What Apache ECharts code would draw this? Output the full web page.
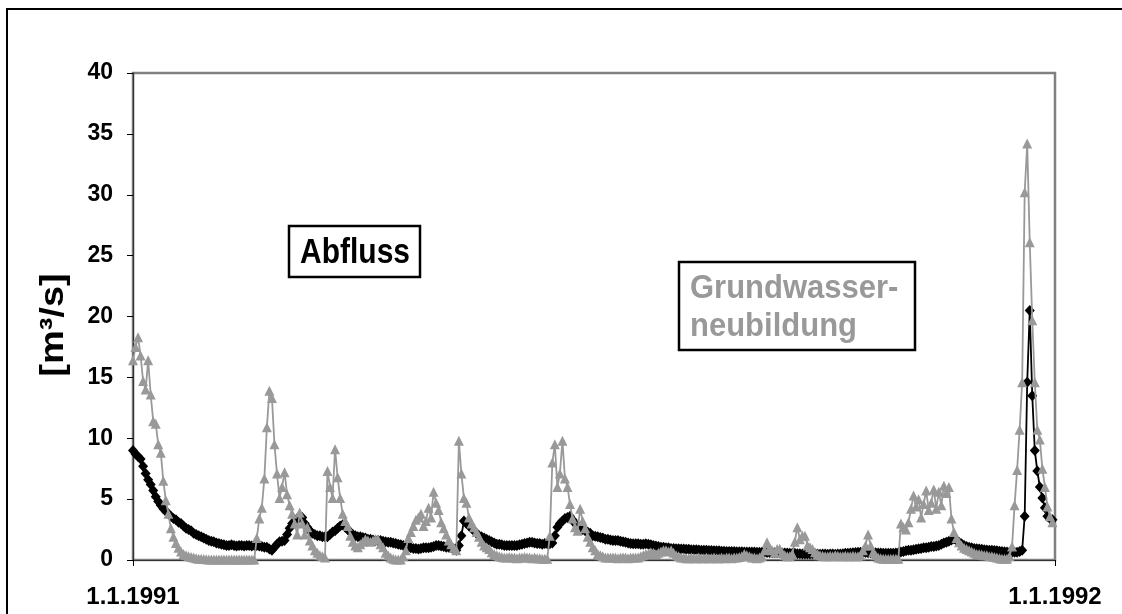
<!DOCTYPE html>
<html>
<head>
<meta charset="utf-8">
<script src="https://cdn.jsdelivr.net/npm/echarts@6/dist/echarts.min.js"></script>
<style>
html,body{margin:0;padding:0;background:#fff;}
#chart{width:1122px;height:614px;}
</style>
</head>
<body>
<div id="chart"></div>
<script>
// Daily values for 1991 (day index 0 = 1.1.1991)
const abfluss = [
 9.0, 8.7, 8.5, 8.3, 7.7, 7.1, 6.6, 6.2, 5.7, 5.2,
 4.8, 4.5, 4.2, 4.0, 3.8, 3.6, 3.4, 3.3, 3.1, 3.0,
 2.8, 2.6, 2.5, 2.4, 2.2, 2.1, 2.0, 1.9, 1.8, 1.7,
 1.6, 1.55, 1.5, 1.4, 1.35, 1.3, 1.25, 1.2, 1.2, 1.25,
 1.2, 1.15, 1.2, 1.2, 1.15, 1.2, 1.2, 1.15, 1.2, 1.2,
 1.15, 1.1, 1.05, 1.05, 0.9, 0.8, 1.05, 1.3, 1.5, 1.55,
 1.6, 2.1, 2.6, 3.0, 3.2, 3.4, 3.5, 3.5, 3.0, 2.7,
 2.4, 2.2, 2.1, 2.0, 2.0, 1.9, 1.9, 1.9, 2.1, 2.3,
 2.4, 2.6, 2.8, 2.9, 2.7, 2.5, 2.3, 2.1, 2.0, 1.9,
 1.9, 1.85, 1.8, 1.7, 1.7, 1.65, 1.6, 1.6, 1.6, 1.55,
 1.5, 1.45, 1.45, 1.4, 1.35, 1.3, 1.25, 1.2, 1.1, 1.05,
 1.0, 0.95, 0.95, 0.9, 0.95, 1.0, 1.0, 1.0, 1.05, 1.1,
 1.2, 1.2, 1.15, 1.1, 1.05, 1.05, 1.0, 0.9, 0.8, 1.2,
 2.0, 3.2, 3.0, 2.8, 2.6, 2.4, 2.2, 2.0, 1.9, 1.8,
 1.7, 1.6, 1.5, 1.4, 1.3, 1.3, 1.25, 1.2, 1.2, 1.2,
 1.2, 1.2, 1.2, 1.25, 1.3, 1.35, 1.4, 1.45, 1.45, 1.4,
 1.35, 1.35, 1.3, 1.35, 1.33, 1.33, 1.4, 2.0, 2.7, 3.0,
 3.2, 3.4, 3.5, 3.6, 3.3, 3.0, 2.8, 2.7, 2.5, 2.4,
 2.3, 2.2, 2.0, 1.95, 1.9, 1.85, 1.8, 1.7, 1.7, 1.65,
 1.6, 1.6, 1.6, 1.55, 1.5, 1.45, 1.4, 1.35, 1.33, 1.33,
 1.33, 1.3, 1.3, 1.33, 1.3, 1.25, 1.2, 1.15, 1.1, 1.05,
 1.05, 1.0, 1.0, 0.95, 0.95, 0.92, 0.92, 0.9, 0.9, 0.88,
 0.88, 0.85, 0.85, 0.85, 0.82, 0.8, 0.8, 0.8, 0.78, 0.78,
 0.75, 0.75, 0.75, 0.72, 0.72, 0.7, 0.7, 0.7, 0.7, 0.68,
 0.68, 0.68, 0.66, 0.66, 0.65, 0.65, 0.65, 0.64, 0.64, 0.64,
 0.64, 0.62, 0.62, 0.6, 0.6, 0.6, 0.6, 0.58, 0.58, 0.58,
 0.55, 0.55, 0.55, 0.52, 0.52, 0.5, 0.5, 0.5, 0.5, 0.5,
 0.52, 0.5, 0.48, 0.5, 0.5, 0.48, 0.5, 0.5, 0.48, 0.5,
 0.5, 0.52, 0.55, 0.55, 0.58, 0.6, 0.62, 0.64, 0.64, 0.64,
 0.62, 0.6, 0.6, 0.6, 0.6, 0.58, 0.58, 0.56, 0.56, 0.56,
 0.56, 0.56, 0.58, 0.6, 0.65, 0.7, 0.75, 0.8, 0.8, 0.85,
 0.88, 0.92, 0.95, 1.0, 1.0, 1.05, 1.1, 1.1, 1.15, 1.2,
 1.3, 1.4, 1.46, 1.55, 1.65, 1.74, 1.6, 1.45, 1.33, 1.2,
 1.1, 1.05, 1.0, 0.95, 0.92, 0.9, 0.88, 0.85, 0.82, 0.8,
 0.8, 0.78, 0.75, 0.72, 0.7, 0.68, 0.66, 0.64, 0.64, 0.64,
 0.64, 0.7, 0.8, 3.6, 14.6, 20.5, 13.5, 9.0, 7.3, 6.0,
 5.1, 4.3, 3.6, 3.4, 3.3
];
const grundwasserneubildung = [
 16.4, 17.5, 18.3, 16.8, 14.7, 14.0, 16.4, 13.6, 11.4, 11.2,
 9.5, 8.8, 6.5, 4.9, 3.8, 2.6, 1.9, 1.4, 1.0, 0.7,
 0.5, 0.4, 0.3, 0.25, 0.2, 0.15, 0.1, 0.1, 0.08, 0.06,
 0.05, 0.05, 0.04, 0.05, 0.05, 0.04, 0.05, 0.05, 0.04, 0.05,
 0.05, 0.04, 0.05, 0.05, 0.04, 0.05, 0.05, 0.05, 0.05, 1.8,
 3.4, 4.3, 6.7, 10.9, 13.9, 13.3, 9.5, 7.1, 5.1, 6.0,
 7.2, 5.4, 4.5, 3.8, 3.0, 2.1, 3.9, 3.0, 2.1, 2.7,
 1.6, 1.2, 0.8, 0.6, 0.4, 0.3, 0.2, 7.3, 6.0, 5.1,
 9.1, 6.8, 5.1, 3.8, 3.2, 2.8, 2.0, 1.5, 1.2, 1.05,
 1.3, 1.5, 1.7, 1.6, 1.5, 1.6, 1.7, 1.7, 1.3, 1.05,
 0.6, 0.4, 0.2, 0.1, 0.05, 0.05, 0.05, 0.3, 0.8, 1.8,
 2.3, 2.8, 3.3, 3.5, 3.8, 2.8, 3.2, 4.3, 3.5, 5.6,
 4.7, 4.1, 3.1, 2.6, 2.1, 1.6, 1.3, 1.0, 0.8, 9.8,
 7.1, 5.1, 4.7, 3.5, 3.0, 2.7, 2.3, 1.9, 1.5, 1.2,
 1.05, 0.9, 0.64, 0.5, 0.4, 0.3, 0.25, 0.2, 0.2, 0.25,
 0.2, 0.2, 0.15, 0.2, 0.2, 0.25, 0.2, 0.2, 0.15, 0.2,
 0.15, 0.15, 0.1, 0.1, 0.1, 2.0, 8.0, 9.5, 6.0, 7.1,
 9.8, 6.7, 6.0, 4.6, 3.4, 2.7, 2.4, 4.2, 3.2, 2.6,
 1.9, 1.5, 1.05, 0.8, 0.5, 0.4, 0.3, 0.2, 0.2, 0.2,
 0.2, 0.2, 0.15, 0.2, 0.2, 0.2, 0.15, 0.2, 0.2, 0.2,
 0.2, 0.3, 0.4, 0.5, 0.5, 0.64, 0.6, 0.5, 0.6, 0.7,
 0.8, 0.8, 0.7, 0.8, 0.6, 0.4, 0.3, 0.2, 0.2, 0.15,
 0.15, 0.2, 0.15, 0.15, 0.2, 0.15, 0.15, 0.2, 0.15, 0.15,
 0.2, 0.15, 0.15, 0.2, 0.15, 0.2, 0.2, 0.15, 0.2, 0.2,
 0.25, 0.3, 0.5, 0.4, 0.3, 0.2, 0.2, 0.15, 0.2, 0.3,
 0.8, 1.46, 1.0, 0.8, 0.6, 0.9, 0.92, 0.6, 0.4, 0.3,
 0.3, 0.5, 1.5, 2.7, 1.7, 2.0, 2.0, 1.2, 1.05, 0.9,
 0.64, 0.5, 0.4, 0.35, 0.3, 0.3, 0.35, 0.3, 0.4, 0.35,
 0.3, 0.3, 0.35, 0.3, 0.3, 0.35, 0.3, 0.3, 0.4, 0.8,
 1.2, 2.1, 1.2, 0.64, 0.4, 0.2, 0.15, 0.1, 0.1, 0.1,
 0.1, 0.1, 0.1, 0.1, 3.0, 2.7, 2.5, 3.1, 4.2, 5.3,
 4.4, 5.0, 3.5, 4.6, 5.7, 4.1, 4.7, 5.8, 4.2, 5.6,
 4.5, 6.1, 5.5, 6.0, 3.4, 2.3, 1.8, 1.46, 1.2, 1.0,
 0.9, 0.8, 0.7, 0.6, 0.5, 0.5, 0.45, 0.4, 0.4, 0.3,
 0.3, 0.25, 0.2, 0.15, 0.1, 0.1, 0.1, 0.3, 1.1, 4.5,
 7.4, 10.7, 14.6, 30.2, 34.2, 26.1, 19.7, 14.6, 10.7, 9.9,
 7.5, 6.0, 4.4, 3.6, 3.1
];
const xTickLabels = ['1.1.1991', '1.1.1992'];
const yTicks = [0, 5, 10, 15, 20, 25, 30, 35, 40];
const yAxisTitle = '[m³/s]';
const labelAbfluss = 'Abfluss';
const labelGwn = ['Grundwasser-', 'neubildung'];

const DAYS = 365;
const FONT = '"Liberation Sans", Arial, sans-serif';

const chart = echarts.init(document.getElementById('chart'), null, {renderer: 'canvas'});
const option = {
  animation: false,
  backgroundColor: '#fff',
  grid: {left: 133, right: 67, top: 73, bottom: 54, show: true, borderColor: '#808080', borderWidth: 2.5, backgroundColor: 'transparent'},
  xAxis: {
    type: 'value', min: 0, max: DAYS, interval: DAYS,
    axisLine: {show: true, lineStyle: {color: '#333', width: 1.2}},
    axisTick: {show: true, length: 6, inside: false, lineStyle: {color: '#000'}},
    splitLine: {show: false},
    axisLabel: {
      margin: 25, color: '#000', fontFamily: FONT, fontWeight: 'bold', fontSize: 24,
      showMinLabel: true, showMaxLabel: true,
      formatter: v => v === 0 ? xTickLabels[0] : (v === DAYS ? xTickLabels[1] : '')
    }
  },
  yAxis: {
    type: 'value', min: yTicks[0], max: yTicks[yTicks.length - 1], interval: yTicks[1] - yTicks[0],
    axisLine: {show: true, lineStyle: {color: '#333', width: 1.2}},
    axisTick: {show: true, length: 6, inside: false, lineStyle: {color: '#000'}},
    splitLine: {show: false},
    axisLabel: {margin: 20, color: '#000', fontFamily: FONT, fontWeight: 'bold', fontSize: 23}
  },
  series: [
    {
      name: 'Abfluss', type: 'line', clip: false,
      data: abfluss.map((v, i) => [i, v]),
      symbol: 'diamond', symbolSize: [10, 11], showAllSymbol: true,
      lineStyle: {color: '#000', width: 1.8},
      itemStyle: {color: '#000'},
      z: 2
    },
    {
      name: 'Grundwasserneubildung', type: 'line', clip: false,
      data: grundwasserneubildung.map((v, i) => [i, v]),
      symbol: 'triangle', symbolSize: 10, showAllSymbol: true,
      lineStyle: {color: '#999999', width: 1.8},
      itemStyle: {color: '#999999'},
      z: 3
    }
  ],
  graphic: [
    {type: 'rect', silent: true, z: 100, shape: {x: 7, y: 9, width: 1300, height: 800},
     style: {fill: 'transparent', stroke: '#000', lineWidth: 2}},
    {type: 'text', silent: true, z: 101, x: 54, y: 325, rotation: Math.PI / 2, scaleX: 1.15,
     style: {text: yAxisTitle, font: 'bold 33px ' + FONT, fill: '#000', textAlign: 'center', textVerticalAlign: 'middle'}},
    {type: 'rect', silent: true, z: 100, shape: {x: 289, y: 226, width: 131, height: 51},
     style: {fill: '#fff', stroke: '#000', lineWidth: 2.5}},
    {type: 'text', silent: true, z: 101, x: 355, y: 253, scaleY: 1.15,
     style: {text: labelAbfluss, font: 'bold 30px ' + FONT, fill: '#000', textAlign: 'center', textVerticalAlign: 'middle'}},
    {type: 'rect', silent: true, z: 100, shape: {x: 679, y: 262, width: 236, height: 88},
     style: {fill: '#fff', stroke: '#000', lineWidth: 2.5}},
    {type: 'text', silent: true, z: 101, x: 690, y: 289, scaleY: 1.08,
     style: {text: labelGwn[0], font: 'bold 31px ' + FONT, fill: '#999999', textAlign: 'left', textVerticalAlign: 'middle'}},
    {type: 'text', silent: true, z: 101, x: 690, y: 327, scaleY: 1.08,
     style: {text: labelGwn[1], font: 'bold 31px ' + FONT, fill: '#999999', textAlign: 'left', textVerticalAlign: 'middle'}}
  ]
};
chart.setOption(option);
</script>
</body>
</html>
